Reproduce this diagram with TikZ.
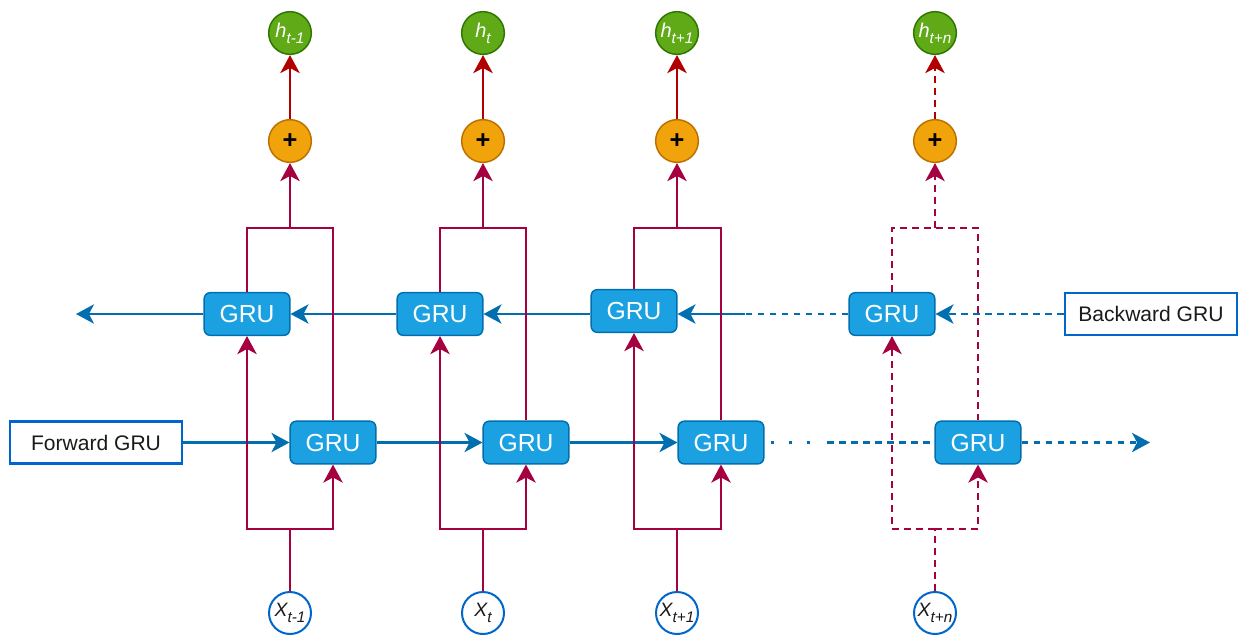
\documentclass[tikz,border=0pt]{standalone}
\usepackage{fontspec}
\setmainfont{Liberation Sans}
\usetikzlibrary{arrows.meta,calc}
\definecolor{crim}{HTML}{A50040}
\definecolor{topred}{HTML}{B20000}
\definecolor{grufill}{HTML}{1BA1E2}
\definecolor{grudraw}{HTML}{006EAF}
\definecolor{labblue}{HTML}{0066CC}
\definecolor{hfill}{HTML}{60A917}
\definecolor{hdraw}{HTML}{2D7600}
\definecolor{pfill}{HTML}{F0A30A}
\definecolor{pdraw}{HTML}{BD7000}
\definecolor{txt}{HTML}{1A1A1A}
\newcommand\mysub[1]{\raisebox{-0.55ex}{\fontsize{11.5}{12}\selectfont #1}}
\tikzset{
  gru/.style={draw=grudraw, fill=grufill, line width=1.1pt, rounded corners=4.5pt,
    minimum width=64.2pt, minimum height=32pt, inner sep=0pt, text=white,
    font=\fontsize{18.5}{20}\selectfont},
  lab/.style={draw=labblue, fill=white, line width=1.6pt, minimum width=129pt,
    minimum height=31.5pt, inner sep=0pt, text=txt, font=\fontsize{15.8}{18}\selectfont},
  hnode/.style={circle, draw=hdraw, fill=hfill, line width=1.1pt, minimum size=32pt,
    inner sep=0pt, text=white, font=\fontsize{15}{15}\selectfont\itshape},
  pnode/.style={circle, draw=pdraw, fill=pfill, line width=1.1pt, minimum size=32pt,
    inner sep=0pt, text=black, font=\fontsize{19}{19}\selectfont\bfseries},
  xnode/.style={circle, draw=labblue, fill=white, line width=1.5pt, minimum size=31.5pt,
    inner sep=0pt, text=txt, font=\fontsize{14.5}{15}\selectfont\itshape},
  tip/.style={-{Stealth[length=13.5pt,width=14.5pt,inset=3.8pt]}},
  redl/.style={draw=crim, line width=1.9pt},
  topl/.style={draw=topred, line width=2.1pt},
  bluel/.style={draw=grudraw, line width=1.6pt},
  dsh/.style={dash pattern=on 5pt off 4pt},
}
\begin{document}
\begin{tikzpicture}[x=0.75pt,y=-0.75pt]
\useasboundingbox (0,0) rectangle (1239,637);

\foreach \i/\L/\C/\R/\yb/\s in {1/247/290/333/314/t-1, 2/440/483/526/314/t, 3/634/677/721/311/t+1, 4/892/935/978/314/t+n} {
  \node[hnode] (h\i) at (\C,33) {h\mysub{\s}};
  \node[pnode] (p\i) at (\C,141) {+};
  \node[gru] (b\i) at (\L,\yb) {GRU};
  \node[gru] (f\i) at (\R,442.5) {GRU};
  \node[xnode] (x\i) at (\C,613) {X\mysub{\s}};
  \coordinate (tl\i) at (\L,228);
  \coordinate (tr\i) at (\R,228);
  \coordinate (tc\i) at (\C,228);
  \coordinate (bl\i) at (\L,529);
  \coordinate (br\i) at (\R,529);
  \coordinate (bc\i) at (\C,529);
}

\node[lab] (fwd) at (96,442.5) {Forward GRU};
\node[lab] (bwd) at (1151,314) {Backward GRU};
\coordinate (fend) at (1150,442.5);
\coordinate (bend) at (76,314);
\coordinate (d1) at (771,442.5);
\coordinate (d2) at (813,442.5);
\coordinate (d3) at (827,442.5);
\coordinate (m1) at (745,314);

% blue connectors
\draw[bluel,tip] (fwd) -- (f1);
\draw[bluel,tip] (f1) -- (f2);
\draw[bluel,tip] (f2) -- (f3);
\draw[bluel,line width=2.6pt,dash pattern=on 2.6pt off 10.9pt] (d1) -- (d2);
\draw[bluel,dsh] (d3) -- (f4);
\draw[bluel,dsh,tip] (f4) -- (fend);

\draw[bluel,dsh,tip] (bwd) -- (b4);
\draw[bluel,dsh] (b4) -- (m1);
\draw[bluel,tip] (m1) -- (b3.east |- m1);
\draw[bluel,tip] (b3.west |- m1) -- (b2.east);
\draw[bluel,tip] (b2) -- (b1);
\draw[bluel,tip] (b1) -- (bend);

% red connectors
\foreach \i/\st in {1/solid,2/solid,3/solid,4/dsh} {
  \draw[redl,\st] (x\i) -- (bc\i);
  \draw[redl,\st,tip] (bc\i) -- (bl\i) -- (b\i.south);
  \draw[redl,\st,tip] (bc\i) -- (br\i) -- (f\i.south);
  \draw[redl,\st] (b\i.north) -- (tl\i) -- (tr\i) -- (f\i.north);
  \draw[redl,\st,tip] (tc\i) -- (p\i);
  \draw[topl,\st,tip] (p\i) -- (h\i);
}
\end{tikzpicture}
\end{document}
